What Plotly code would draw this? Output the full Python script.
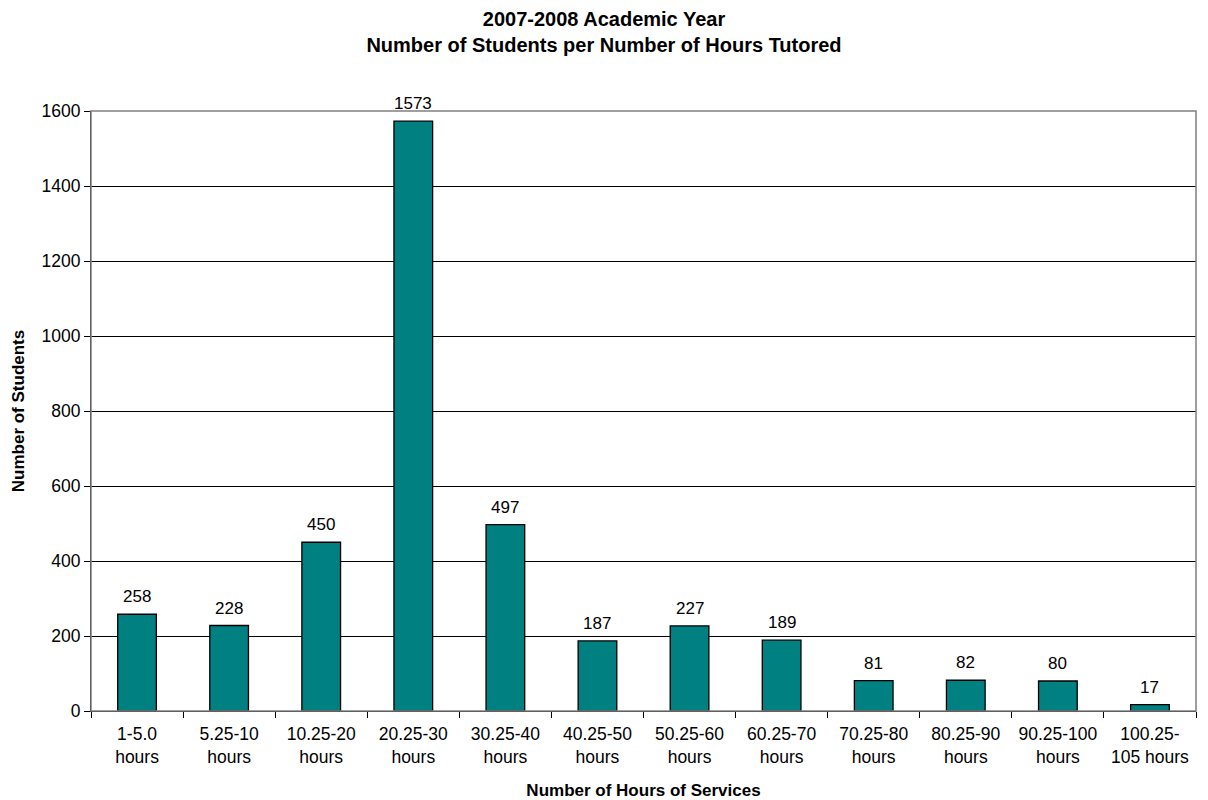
import plotly.graph_objects as go

categories = ["1-5.0<br>hours", "5.25-10<br>hours", "10.25-20<br>hours", "20.25-30<br>hours",
              "30.25-40<br>hours", "40.25-50<br>hours", "50.25-60<br>hours", "60.25-70<br>hours",
              "70.25-80<br>hours", "80.25-90<br>hours", "90.25-100<br>hours", "100.25-<br>105 hours"]
students = [258, 228, 450, 1573, 497, 187, 227, 189, 81, 82, 80, 17]
y_ticks = [0, 200, 400, 600, 800, 1000, 1200, 1400, 1600]

FONT = "Liberation Sans, Arial, sans-serif"

fig = go.Figure(go.Bar(
    x=categories, y=students,
    marker=dict(color="#008080", line=dict(color="black", width=1.3)),
    cliponaxis=False,
))

for c, v in zip(categories, students):
    fig.add_annotation(x=c, y=v, text=str(v), showarrow=False, yanchor="bottom",
                       yshift=6, font=dict(family=FONT, size=17, color="black"))

fig.update_layout(
    width=1208, height=800,
    paper_bgcolor="white", plot_bgcolor="white",
    margin=dict(l=91, r=12, t=111, b=89),
    bargap=0.58,
    showlegend=False,
    font=dict(family=FONT, color="black"),
    title=dict(text="<b>2007-2008 Academic Year<br>Number of Students per Number of Hours Tutored</b>",
               x=0.5, xanchor="center", yref="container", y=0.967, yanchor="middle",
               font=dict(family=FONT, size=20, color="black")),
    xaxis=dict(
        title=dict(text="<b>Number of Hours of Services</b>", font=dict(size=17), standoff=18),
        tickfont=dict(size=17.5), tickson="boundaries", ticks="outside", ticklen=6,
        ticklabelstandoff=7, automargin=False,
        tickcolor="black", showline=True, linecolor="black", linewidth=1,
    ),
    yaxis=dict(
        title=dict(text="<b>Number of Students</b>", font=dict(size=17), standoff=12),
        range=[0, 1600], tickvals=y_ticks, tickfont=dict(size=17.5),
        ticks="outside", ticklen=6, tickcolor="black",
        showgrid=True, gridcolor="black", gridwidth=1, automargin=False,
        showline=True, linecolor="black", linewidth=1, zeroline=False,
    ),
    shapes=[dict(type="rect", xref="paper", yref="paper", x0=0, x1=1, y0=0, y1=1,
                 line=dict(color="#808080", width=1.5), layer="above")],
)

fig.write_html("out.html", config={"displayModeBar": False},
               post_script="document.body.style.margin='0';")
